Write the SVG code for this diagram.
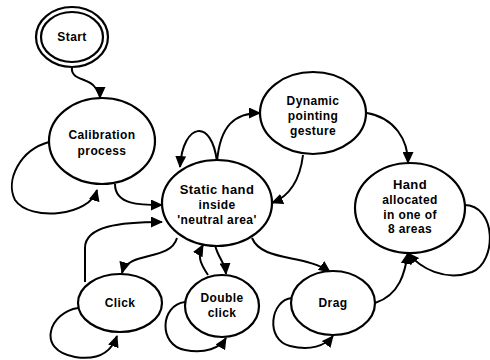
<svg xmlns="http://www.w3.org/2000/svg" width="490" height="360" viewBox="0 0 490 360">
<defs>
<marker id="arr" markerUnits="userSpaceOnUse" markerWidth="12" markerHeight="11" refX="11" refY="5.5" orient="auto">
<path d="M0,0 L12,5.5 L0,11 z" fill="#000"/>
</marker>
<style>
.n{fill:#fff;stroke:#000;stroke-width:2.2}
.c{fill:none;stroke:#000;stroke-width:2;marker-end:url(#arr)}
text{font-family:"Liberation Sans",Arial,sans-serif;font-weight:bold;font-size:12px;letter-spacing:0.4px;text-anchor:middle;fill:#000}
.big{font-size:13px}
</style>
</defs>
<rect width="490" height="360" fill="#fff"/>
<g id="connectors">
<path class="c" d="M72,67 C70,80 88,78 94,86 C98,91 100,94 100,98"/>
<path class="c" d="M49,142 C20,150 5,180 15,200 C30,222 90,216 97,190"/>
<path class="c" d="M115,184 C115,205 140,205 162,205"/>
<path class="c" d="M217,162 C212,118 183,122 180,167"/>
<path class="c" d="M217,162 C220,125 235,113 260,113"/>
<path class="c" d="M303,155 C300,180 290,196 272,203"/>
<path class="c" d="M367,113 C395,118 408,140 408,163"/>
<path class="c" d="M464,205 C497,205 497,262 472,272 C445,282 420,268 408,253"/>
<path class="c" d="M252,238 C262,262 305,254 330,272"/>
<path class="c" d="M375,303 C400,295 405,272 408,253"/>
<path class="c" d="M292,298 C270,300 265,340 290,346 C310,351 325,346 333,336"/>
<path class="c" d="M177,238 C170,262 128,250 122,273"/>
<path class="c" d="M85,282 L85,248 C85,226 120,222 162,222"/>
<path class="c" d="M78,308 C50,312 35,350 75,357 C100,361 112,350 117,336"/>
<path class="c" d="M208,275 C200,263 197,256 203,245"/>
<path class="c" d="M215,245 C218,258 225,262 226,274"/>
<path class="c" d="M185,302 C160,305 158,345 185,350 C205,354 220,348 226,338"/>
</g>
<g id="start">
<ellipse class="n" cx="72" cy="37" rx="36" ry="30"/>
<ellipse class="n" cx="72" cy="37" rx="31" ry="25"/>
<text x="72" y="41">Start</text>
</g>
<g id="calibration">
<ellipse class="n" cx="102" cy="141" rx="53" ry="43"/>
<text x="102" y="139">Calibration</text>
<text x="102" y="155">process</text>
</g>
<g id="static">
<ellipse class="n" cx="217" cy="203" rx="55" ry="43"/>
<text class="big" x="217" y="194">Static hand</text>
<text x="217" y="209">inside</text>
<text x="217" y="224">'neutral area'</text>
</g>
<g id="dynamic">
<ellipse class="n" cx="313" cy="113" rx="53" ry="41"/>
<text x="313" y="105">Dynamic</text>
<text x="313" y="120">pointing</text>
<text x="313" y="135">gesture</text>
</g>
<g id="hand">
<ellipse class="n" cx="410" cy="208" rx="55" ry="45"/>
<text class="big" x="410" y="189">Hand</text>
<text x="410" y="204">allocated</text>
<text x="410" y="219">in one of</text>
<text x="410" y="233">8 areas</text>
</g>
<g id="click">
<ellipse class="n" cx="120" cy="303" rx="42" ry="29"/>
<text x="120" y="307">Click</text>
</g>
<g id="doubleclick">
<ellipse class="n" cx="222" cy="306" rx="37" ry="31"/>
<text x="222" y="302">Double</text>
<text x="222" y="317">click</text>
</g>
<g id="drag">
<ellipse class="n" cx="333" cy="303" rx="42" ry="32"/>
<text x="333" y="307">Drag</text>
</g>
</svg>
